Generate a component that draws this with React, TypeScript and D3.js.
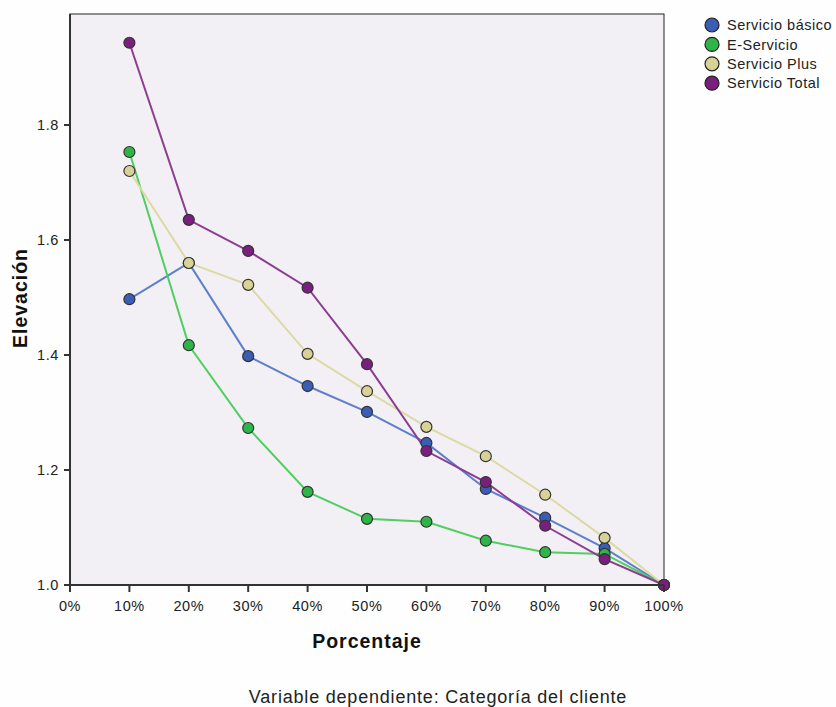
import React from "react";
import * as d3 from "d3";

const percents = [10, 20, 30, 40, 50, 60, 70, 80, 90, 100];
const xTicks = [0, 10, 20, 30, 40, 50, 60, 70, 80, 90, 100];
const yTicks = [1.0, 1.2, 1.4, 1.6, 1.8];
const seriesNames = ["Servicio básico", "E-Servicio", "Servicio Plus", "Servicio Total"];
const basico = [1.497, 1.56, 1.398, 1.346, 1.301, 1.247, 1.167, 1.117, 1.064, 1.0];
const eServicio = [1.753, 1.417, 1.273, 1.162, 1.115, 1.11, 1.077, 1.057, 1.054, 1.0];
const plus = [1.72, 1.56, 1.522, 1.402, 1.337, 1.275, 1.224, 1.157, 1.082, 1.0];
const total = [1.943, 1.635, 1.581, 1.517, 1.384, 1.233, 1.179, 1.103, 1.045, 1.0];

const seriesValues = [basico, eServicio, plus, total];
const markerColors = ["#3a5db5", "#2db548", "#d9d297", "#7a1f7e"];
const lineColors = ["#5d7fcc", "#4fcf5f", "#ddd9a4", "#8c3d91"];

export default function App() {
  const W = 836, H = 707;
  const left = 70, right = 664, top = 14, bottom = 585;
  const x = d3.scaleLinear().domain([0, 100]).range([left, right]);
  const y = d3.scaleLinear().domain([1.0, 1.993]).range([bottom, top]);
  const line = d3.line<number>().x((_, i) => x(percents[i])).y((d) => y(d));
  const font = "'Liberation Sans', Arial, sans-serif";

  return (
    <svg width={W} height={H} style={{ position: "absolute", left: 0, top: 0, background: "#fff" }} fontFamily={font}>
      <rect x={0} y={0} width={W} height={H} fill="#fdfefd" />
      <rect x={left} y={top} width={right - left} height={bottom - top} fill="#f2f0f5" stroke="#222" strokeWidth={1} />
      {seriesValues.map((vals, si) => (
        <path key={"l" + si} d={line(vals) || ""} fill="none" stroke={lineColors[si]} strokeWidth={2} />
      ))}
      {seriesValues.map((vals, si) =>
        vals.map((v, i) => (
          <circle key={"c" + si + "-" + i} cx={x(percents[i])} cy={y(v)} r={5.5} fill={markerColors[si]} stroke="#333" strokeWidth={1.2} />
        ))
      )}
      {/* axes */}
      <line x1={left} x2={left} y1={top} y2={bottom + 6} stroke="#333" strokeWidth={2} />
      <line x1={left - 6} x2={right} y1={bottom} y2={bottom} stroke="#333" strokeWidth={2} />
      {yTicks.map((t) => (
        <g key={"yt" + t}>
          <line x1={left - 6} x2={left} y1={y(t)} y2={y(t)} stroke="#333" strokeWidth={2} />
          <text x={left - 11} y={y(t)} dy="0.36em" textAnchor="end" fontSize={14.5} letterSpacing={0.6} fill="#222">
            {t.toFixed(1)}
          </text>
        </g>
      ))}
      {xTicks.map((t) => (
        <g key={"xt" + t}>
          <line x1={x(t)} x2={x(t)} y1={bottom} y2={bottom + 7} stroke="#333" strokeWidth={2} />
          <text x={x(t)} y={611} textAnchor="middle" fontSize={14.5} letterSpacing={0.6} fill="#222">
            {t + "%"}
          </text>
        </g>
      ))}
      <text x={367} y={648} textAnchor="middle" fontSize={19.5} letterSpacing={1} fontWeight="bold" fill="#111">Porcentaje</text>
      <text transform={`translate(27, 298) rotate(-90)`} textAnchor="middle" fontSize={19.5} letterSpacing={1} fontWeight="bold" fill="#111">Elevación</text>
      <text x={438} y={703} textAnchor="middle" fontSize={18} letterSpacing={0.8} fill="#222">Variable dependiente: Categoría del cliente</text>
      {seriesNames.map((n, i) => (
        <g key={"lg" + i}>
          <circle cx={712} cy={25 + i * 19.4} r={7} fill={markerColors[i]} stroke="#222" strokeWidth={1.2} />
          <text x={727} y={25 + i * 19.4} dy="0.36em" fontSize={14.5} letterSpacing={0.5} fill="#222">{n}</text>
        </g>
      ))}
    </svg>
  );
}
